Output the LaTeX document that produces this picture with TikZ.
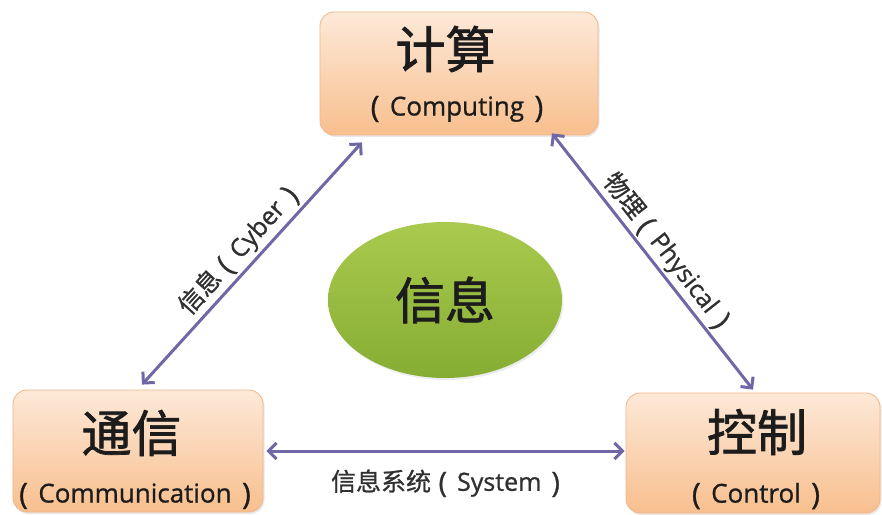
\documentclass[tikz,border=0pt]{standalone}
\usepackage{fontspec}
\setmainfont{Open Sans}[FakeBold=0.9]
\newfontfamily\cjk{Noto Sans CJK SC}[FakeBold=0.9]
\newfontfamily\cjkhead{Noto Sans CJK SC}[FakeBold=1.4]
\usetikzlibrary{arrows.meta,shadows,shapes.geometric,calc}

\definecolor{boxtop}{HTML}{FDE9D8}
\definecolor{boxbot}{HTML}{F8BF8E}
\definecolor{boxline}{HTML}{F1B689}
\definecolor{linkcol}{HTML}{6F67A6}
\definecolor{greentop}{HTML}{A9CA4E}
\definecolor{greenbot}{HTML}{86AD33}
\definecolor{ink}{HTML}{1C1C1C}
\definecolor{labink}{HTML}{303030}

% parenthesised English term with airy inner spacing and tall brackets
\newcommand\wrapparen[1]{{\fontsize{1.15em}{1em}\selectfont\raisebox{-0.06em}{(}}\hspace{0.4em}#1\hspace{0.4em}{\fontsize{1.15em}{1em}\selectfont\raisebox{-0.06em}{)}}}

\tikzset{
  unitbox/.style={draw=boxline, line width=0.8bp, rounded corners=14bp,
    top color=boxtop, bottom color=boxbot,
    drop shadow={opacity=0.18, shadow xshift=1.5bp, shadow yshift=-2bp}},
  title/.style={font=\cjkhead\fontsize{50bp}{56bp}\selectfont, text=ink, inner sep=0pt},
  sub/.style={font=\fontsize{26bp}{30bp}\selectfont, text=ink, inner sep=0pt},
  blob/.style={ellipse, minimum width=234bp, minimum height=156bp,
    top color=greentop, bottom color=greenbot,
    drop shadow={opacity=0.15, shadow xshift=1.5bp, shadow yshift=-2bp}},
  link/.style={draw=linkcol, line width=3bp,
    {Straight Barb[length=8bp,width=16bp]}-{Straight Barb[length=8bp,width=16bp]}},
  lab/.style={font=\fontsize{25bp}{30bp}\selectfont, text=labink, inner sep=2bp},
}

\begin{document}
\begin{tikzpicture}[x=1bp, y=-1bp]
  \fill[white] (0,0) rectangle (882,515);
  \useasboundingbox (0,0) rectangle (882,515);

  % the three units
  \node[unitbox, minimum width=278bp, minimum height=123bp] (comp) at (459,73.5) {};
  \node[title] (compT) at (445.5,49) {计算};
  \node[sub] (compS) at (457,109) {\wrapparen{Computing}};

  \node[unitbox, minimum width=250bp, minimum height=122bp] (comm) at (138,451) {};
  \node[title] (commT) at (131.5,433) {通信};
  \node[sub] (commS) at (135,496) {\wrapparen{Communication}};

  \node[unitbox, minimum width=254bp, minimum height=120bp] (ctrl) at (753,453) {};
  \node[title] (ctrlT) at (757,432) {控制};
  \node[sub] (ctrlS) at (756,496) {\wrapparen{Control}};

  % centre
  \node[blob, title] (info) at (445,300) {信息};

  % links between the units
  \draw[link] ([xshift=4bp,yshift=5bp]comm.north) --
    node[lab, midway, sloped, above=1bp] (cyber) {{\cjk 信息}\hspace{0.3em}\wrapparen{Cyber}}
    ([xshift=-97bp,yshift=-7bp]comp.south);

  \draw[link] ([xshift=93bp,yshift=2bp]comp.south) --
    node[lab, midway, sloped, above=0bp] (phys) {{\cjk 物理}\hspace{0.3em}\wrapparen{Physical}}
    ([yshift=3bp]ctrl.north);

  \draw[link] ([xshift=3bp]comm.east) --
    node[lab, midway, below=15bp] (sys) {{\cjk 信息系统}\hspace{0.3em}\wrapparen{System}}
    ([xshift=-1bp]comm.east -| ctrl.west);
\end{tikzpicture}
\end{document}
